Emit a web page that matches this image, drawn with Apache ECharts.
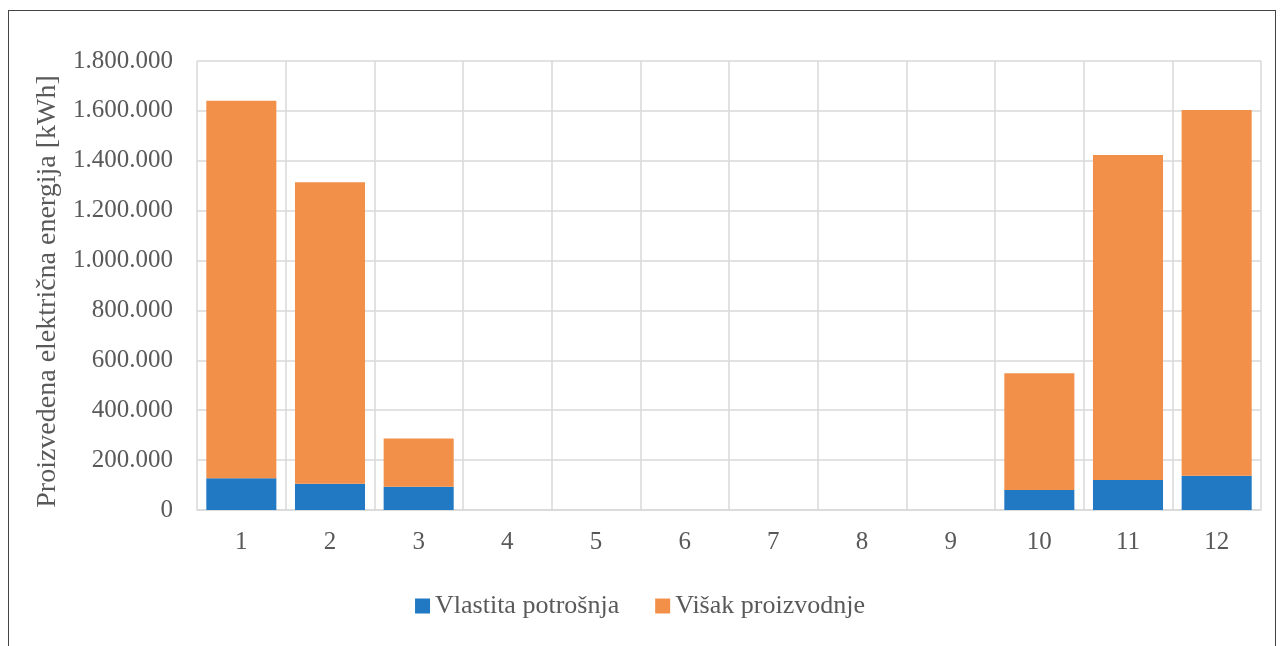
<!DOCTYPE html>
<html>
<head>
<meta charset="utf-8">
<script src="https://cdn.jsdelivr.net/npm/echarts@6/dist/echarts.min.js"></script>
<style>
  html, body { margin: 0; padding: 0; background: #fff; }
  #frame { position: absolute; left: 8px; top: 10px; width: 1266px; height: 640px;
           border-left: 1.5px solid #444; border-top: 1.5px solid #444; border-right: 1.5px solid #444; }
  #chart { position: absolute; left: 0; top: 0; width: 1280px; height: 646px; }
</style>
</head>
<body>
<div id="frame"></div>
<div id="chart"></div>
<script>
// Monthly produced electricity, kWh
const months = ['1', '2', '3', '4', '5', '6', '7', '8', '9', '10', '11', '12'];
const ownUse = [127000, 105000, 93000, 0, 0, 0, 0, 0, 0, 80000, 120000, 137000];
const surplus = [1514000, 1209000, 194000, 0, 0, 0, 0, 0, 0, 468000, 1303000, 1467000];
const seriesNames = ['Vlastita potrošnja', 'Višak proizvodnje'];
const yAxisTitle = 'Proizvedena električna energija [kWh]';

const fmt = v => String(v).replace(/\B(?=(\d{3})+(?!\d))/g, '.');
const font = '"Liberation Serif", "DejaVu Serif", serif';

const chart = echarts.init(document.getElementById('chart'), null, { renderer: 'canvas' });
chart.setOption({
  animation: false,
  backgroundColor: 'transparent',
  textStyle: { fontFamily: font },
  grid: { left: 197, right: 19, top: 61, bottom: 136 },
  legend: {
    bottom: 22,
    left: 'center',
    itemWidth: 15,
    itemHeight: 15,
    itemGap: 36,
    icon: 'rect',
    textStyle: { fontFamily: font, fontSize: 26, color: '#595959' },
    data: seriesNames
  },
  xAxis: {
    type: 'category',
    data: months,
    axisTick: { show: false },
    axisLine: { lineStyle: { color: '#d9d9d9', width: 1.5 } },
    axisLabel: { fontFamily: font, fontSize: 25, color: '#595959', margin: 20 },
    splitLine: { show: true, lineStyle: { color: '#d9d9d9', width: 1.5 } }
  },
  yAxis: {
    type: 'value',
    min: 0,
    max: 1800000,
    interval: 200000,
    name: yAxisTitle,
    nameLocation: 'middle',
    nameGap: 135,
    nameTextStyle: { fontFamily: font, fontSize: 28, color: '#595959', padding: [0, 0, 0, -12] },
    axisLabel: { fontFamily: font, fontSize: 25, color: '#595959', margin: 24, formatter: fmt },
    axisLine: { show: false },
    axisTick: { show: false },
    splitLine: { lineStyle: { color: '#d9d9d9', width: 1.5 } }
  },
  series: [
    {
      name: seriesNames[0],
      type: 'bar',
      stack: 'total',
      data: ownUse,
      barWidth: '79%',
      itemStyle: { color: '#2079c2' }
    },
    {
      name: seriesNames[1],
      type: 'bar',
      stack: 'total',
      data: surplus,
      barWidth: '79%',
      itemStyle: { color: '#f2904a' }
    }
  ]
});
</script>
</body>
</html>
